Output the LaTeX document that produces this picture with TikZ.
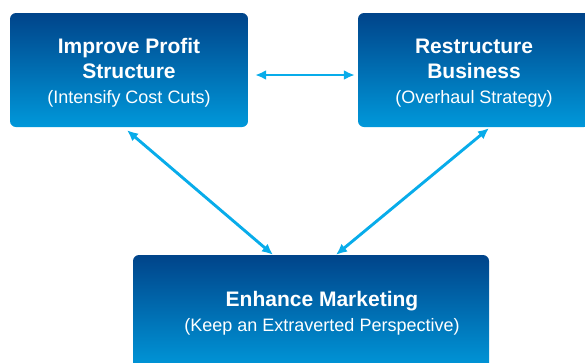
\documentclass[tikz,border=0pt]{standalone}
\usepackage{fontspec}
\setmainfont{Liberation Sans}
\usepackage{tikz}
\usetikzlibrary{positioning,arrows.meta}
\definecolor{boxtop}{RGB}{0,68,138}
\definecolor{boxbot}{RGB}{0,152,218}
\definecolor{linkblue}{RGB}{8,172,234}
\newcommand{\boxhead}{\fontsize{21}{25}\selectfont\bfseries}
\newcommand{\boxsub}{\fontsize{18}{25}\selectfont\mdseries}

\begin{document}
\begin{tikzpicture}[x=1pt,y=-1pt,on grid,
   box/.style={rounded corners=6pt,top color=boxtop,bottom color=boxbot,inner sep=0pt},
   boxtext/.style={text=white,align=center,inner sep=0pt,font=\boxsub},
   link/.style={{Latex[length=11pt,width=10pt]}-{Latex[length=11pt,width=10pt]},
      linkblue,line width=2.9pt}]
   \clip (0,0) rectangle (585,362);
   \node[box,minimum width=238pt,minimum height=114pt] (profit) at (129,70) {};
   \node[box,minimum width=232pt,minimum height=114pt] (restruct) [right=345pt of profit] {};
   \node[box,minimum width=356pt,minimum height=115pt] (mkt) [below right=242.5pt and 182pt of profit] {};

   \node[boxtext] (profit text) at ([yshift=-3pt]profit.center)
      {\boxhead Improve Profit\\\boxhead Structure\\\boxsub (Intensify Cost Cuts)};
   \node[boxtext] (restruct text) at ([yshift=-3pt]restruct.center)
      {\boxhead Restructure\\\boxhead Business\\\boxsub (Overhaul Strategy)};
   \node[boxtext] (mkt text) at ([xshift=11pt,yshift=-0.5pt]mkt.center)
      {\boxhead Enhance Marketing\\\boxsub (Keep an Extraverted Perspective)};

   \draw[link,shorten <=7pt,shorten >=3pt]
      ([yshift=-5pt]profit.east) -- ([yshift=-5pt]restruct.west);
   \draw[link] ([shift={(-2pt,-3pt)}]profit.south) -- ([xshift=-38pt]mkt.north);
   \draw[link] ([shift={(15pt,-1pt)}]restruct.south) -- ([xshift=25pt]mkt.north);
\end{tikzpicture}
\end{document}
